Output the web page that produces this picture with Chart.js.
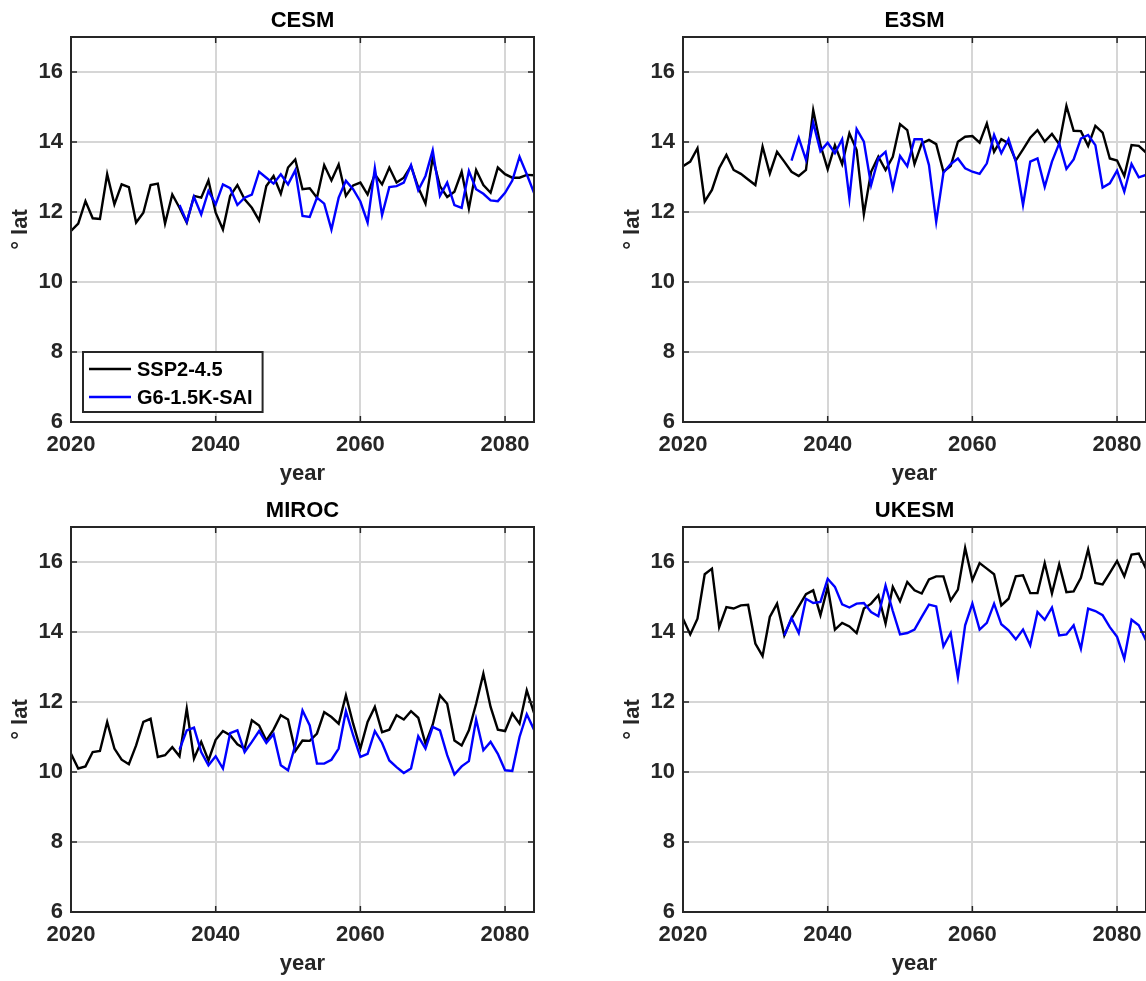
<!DOCTYPE html>
<html>
<head>
<meta charset="utf-8">
<title>Hadley cell edge latitude</title>
<script src="https://cdn.jsdelivr.net/npm/chart.js@4.4.0/dist/chart.umd.min.js"></script>
<style>
html,body{margin:0;padding:0;background:#fff;width:1146px;height:981px;overflow:hidden;}
canvas{position:absolute;}
</style>
</head>
<body>
<canvas id="cesmChart" width="605" height="490" style="left:0;top:0"></canvas>
<canvas id="e3smChart" width="605" height="490" style="left:612px;top:0"></canvas>
<canvas id="mirocChart" width="605" height="490" style="left:0;top:490px"></canvas>
<canvas id="ukesmChart" width="605" height="490" style="left:612px;top:490px"></canvas>
<script>
// Years on the x axis
const years = [
    2020,2021,2022,2023,2024,2025,2026,2027,2028,2029,
    2030,2031,2032,2033,2034,2035,2036,2037,2038,2039,
    2040,2041,2042,2043,2044,2045,2046,2047,2048,2049,
    2050,2051,2052,2053,2054,2055,2056,2057,2058,2059,
    2060,2061,2062,2063,2064,2065,2066,2067,2068,2069,
    2070,2071,2072,2073,2074,2075,2076,2077,2078,2079,
    2080,2081,2082,2083,2084
];
const seriesNames = ["SSP2-4.5", "G6-1.5K-SAI"];
const xTicks = [2020, 2040, 2060, 2080];
const yTicks = [6, 8, 10, 12, 14, 16];

// CESM (SSP2-4.5 from 2020, G6 from 2035)
const cesmSsp = [
    11.46,11.67,12.31,11.82,11.80,13.08,12.22,12.79,12.71,11.70,
    11.98,12.77,12.81,11.67,12.50,12.12,11.70,12.46,12.41,12.90,
    11.98,11.50,12.46,12.77,12.36,12.12,11.76,12.74,13.03,12.52,
    13.27,13.50,12.65,12.68,12.41,13.34,12.90,13.36,12.46,12.76,
    12.84,12.50,13.08,12.79,13.27,12.84,12.98,13.31,12.70,12.24,
    13.55,12.74,12.43,12.58,13.15,12.10,13.20,12.77,12.55,13.27,
    13.08,12.98,12.98,13.06,13.05
];
const cesmG6 = [
    12.20,11.72,12.43,11.93,12.60,12.22,12.79,12.68,12.20,12.41,
    12.50,13.15,12.98,12.81,13.08,12.79,13.19,11.89,11.86,12.41,
    12.24,11.50,12.41,12.89,12.65,12.30,11.70,13.25,11.91,12.71,
    12.74,12.84,13.34,12.62,13.03,13.76,12.46,12.84,12.20,12.12,
    13.17,12.65,12.52,12.33,12.31,12.55,12.90,13.58,13.08,12.55
];

// E3SM
const e3smSsp = [
    13.31,13.44,13.82,12.30,12.63,13.25,13.63,13.20,13.09,12.93,
    12.77,13.87,13.10,13.72,13.44,13.15,13.03,13.20,14.91,13.91,
    13.22,13.91,13.37,14.25,13.77,11.94,13.15,13.58,13.20,13.58,
    14.51,14.34,13.37,13.96,14.06,13.94,13.15,13.31,14.01,14.15,
    14.17,13.98,14.53,13.72,14.08,13.96,13.47,13.79,14.12,14.34,
    14.01,14.23,13.94,15.03,14.32,14.31,13.89,14.46,14.27,13.53,
    13.47,13.03,13.91,13.89,13.70
];
const e3smG6 = [
    13.47,14.12,13.49,14.55,13.74,13.98,13.68,14.08,12.39,14.37,
    14.01,12.77,13.53,13.72,12.68,13.60,13.31,14.08,14.08,13.34,
    11.72,13.12,13.37,13.53,13.25,13.15,13.09,13.39,14.20,13.68,
    14.08,13.44,12.20,13.44,13.53,12.72,13.44,13.96,13.23,13.50,
    14.10,14.20,13.91,12.70,12.82,13.18,12.58,13.37,12.99,13.06
];

// MIROC
const mirocSsp = [
    10.52,10.10,10.16,10.57,10.60,11.43,10.67,10.35,10.22,10.76,
    11.43,11.52,10.43,10.48,10.71,10.45,11.81,10.38,10.86,10.33,
    10.92,11.17,11.05,10.79,10.67,11.48,11.33,10.90,11.21,11.62,
    11.50,10.60,10.90,10.89,11.10,11.71,11.57,11.38,12.19,11.38,
    10.67,11.43,11.86,11.14,11.21,11.62,11.50,11.74,11.55,10.81,
    11.35,12.19,11.95,10.90,10.76,11.19,11.95,12.81,11.86,11.21,
    11.17,11.67,11.38,12.33,11.69
];
const mirocG6 = [
    10.64,11.19,11.27,10.57,10.19,10.45,10.10,11.11,11.19,10.57,
    10.86,11.17,10.83,11.08,10.19,10.05,10.76,11.76,11.33,10.24,
    10.24,10.35,10.67,11.74,11.05,10.43,10.52,11.17,10.83,10.33,
    10.14,9.97,10.10,11.02,10.67,11.29,11.19,10.48,9.93,10.16,
    10.31,11.50,10.62,10.86,10.52,10.05,10.03,11.00,11.65,11.21
];

// UKESM (G6 from 2034)
const ukesmSsp = [
    14.38,13.93,14.38,15.65,15.81,14.14,14.71,14.67,14.76,14.78,
    13.67,13.31,14.43,14.81,13.90,14.38,14.73,15.08,15.19,14.48,
    15.29,14.07,14.26,14.16,13.97,14.67,14.81,15.05,14.24,15.29,
    14.88,15.43,15.19,15.10,15.50,15.59,15.59,14.90,15.21,16.40,
    15.48,15.97,15.81,15.65,14.76,14.95,15.59,15.62,15.11,15.11,
    15.97,15.10,15.93,15.14,15.16,15.55,16.36,15.40,15.36,15.69,
    16.03,15.59,16.21,16.24,15.81
];
const ukesmG6 = [
    13.90,14.40,13.97,14.95,14.83,14.86,15.52,15.29,14.79,14.70,
    14.81,14.83,14.57,14.45,15.33,14.60,13.93,13.97,14.07,14.43,
    14.78,14.73,13.59,13.97,12.71,14.19,14.81,14.07,14.26,14.81,
    14.22,14.05,13.79,14.07,13.62,14.57,14.35,14.70,13.90,13.93,
    14.19,13.52,14.67,14.60,14.48,14.14,13.86,13.24,14.35,14.19,
    13.76
];

const FONT = "'Liberation Sans', Arial, Helvetica, sans-serif";
const INK = "#262626";
const GRID = "#d6d6d6";

// Box around the plot area with inward tick marks on all four sides
const axesBox = {
    id: "axesBox",
    afterDraw(chart){
        let {ctx, chartArea:a, scales:{x, y}} = chart;
        ctx.save();
        ctx.strokeStyle = INK;
        ctx.lineWidth = 1.5;
        ctx.beginPath();
        x.ticks.forEach(t=>{
            let px = x.getPixelForValue(t.value);
            ctx.moveTo(px, a.bottom); ctx.lineTo(px, a.bottom - 6);
            ctx.moveTo(px, a.top); ctx.lineTo(px, a.top + 6);
        });
        y.ticks.forEach(t=>{
            let py = y.getPixelForValue(t.value);
            ctx.moveTo(a.left, py); ctx.lineTo(a.left + 6, py);
            ctx.moveTo(a.right, py); ctx.lineTo(a.right - 6, py);
        });
        ctx.stroke();
        ctx.lineWidth = 2;
        ctx.strokeRect(a.left, a.top, a.right - a.left, a.bottom - a.top);
        ctx.restore();
    }
};

// Boxed legend in the lower-left corner of the plot
const boxLegend = {
    id: "boxLegend",
    afterDraw(chart, args, opts){
        if(!opts.display) return;
        let {ctx, chartArea:a} = chart;
        let sets = chart.data.datasets;
        ctx.save();
        ctx.font = "bold 20px " + FONT;
        let textW = Math.max(...sets.map(d=>ctx.measureText(d.label).width));
        let left = a.left + 12, top = a.bottom - 70;
        let w = 54 + textW + 10, h = 60;
        ctx.fillStyle = "#ffffff";
        ctx.fillRect(left, top, w, h);
        ctx.strokeStyle = INK;
        ctx.lineWidth = 2;
        ctx.strokeRect(left, top, w, h);
        sets.forEach((d, i)=>{
            let rowY = top + 17 + i * 28;
            ctx.strokeStyle = d.borderColor;
            ctx.lineWidth = 2.4;
            ctx.beginPath();
            ctx.moveTo(left + 6, rowY); ctx.lineTo(left + 48, rowY);
            ctx.stroke();
            ctx.fillStyle = "#000000";
            ctx.textBaseline = "middle";
            ctx.textAlign = "left";
            ctx.fillText(d.label, left + 54, rowY + 1);
        });
        ctx.restore();
    }
};

function points(startYear, values){
    let i0 = years.indexOf(startYear);
    return values.map((v, i)=>({x: years[i0 + i], y: v}));
}

function tickFont(){ return {family: FONT, size: 22, weight: "bold"}; }

// One panel per model
function buildPanel(id, title, ssp, g6, g6Start, withLegend){
    return new Chart(document.getElementById(id), {
        type: "line",
        data: {
            datasets: [
                {label: seriesNames[0], data: points(years[0], ssp), borderColor: "#000000", order: 1},
                {label: seriesNames[1], data: points(g6Start, g6), borderColor: "#0000ff", order: 0}
            ]
        },
        options: {
            responsive: false,
            animation: false,
            layout: {padding: 0},
            elements: {line: {borderWidth: 2.4, tension: 0}, point: {radius: 0}},
            plugins: {
                legend: {display: false},
                tooltip: {enabled: false},
                title: {display: true, text: title, color: "#000000",
                        font: {family: FONT, size: 22, weight: "bold"}, padding: {top: 8, bottom: 2.6}},
                boxLegend: {display: withLegend}
            },
            scales: {
                x: {
                    type: "linear", min: xTicks[0], max: 2084,
                    afterBuildTicks: s=>{ s.ticks = xTicks.map(v=>({value: v})); },
                    ticks: {padding: 10, color: INK, font: tickFont(), maxRotation: 0, callback: v=>String(v)},
                    grid: {color: GRID, lineWidth: 2, drawTicks: false},
                    border: {display: false},
                    title: {display: true, text: "year", color: INK, font: tickFont(), padding: {top: 0, bottom: 3}},
                    afterFit: s=>{ s.height = 68; }
                },
                y: {
                    type: "linear", min: 6, max: 17,
                    afterBuildTicks: s=>{ s.ticks = yTicks.map(v=>({value: v})); },
                    ticks: {padding: 8, color: INK, font: tickFont()},
                    grid: {color: GRID, lineWidth: 2, drawTicks: false},
                    border: {display: false},
                    title: {display: true, text: "° lat", color: INK, font: tickFont(), padding: {top: 7.6, bottom: 0}},
                    afterFit: s=>{ s.width = 71; }
                },
                yRight: {
                    axis: "y", position: "right", display: true,
                    ticks: {display: false}, grid: {display: false}, border: {display: false},
                    afterFit: s=>{ s.width = 71; }
                }
            }
        },
        plugins: [axesBox, boxLegend]
    });
}

buildPanel("cesmChart", "CESM", cesmSsp, cesmG6, 2035, true);
buildPanel("e3smChart", "E3SM", e3smSsp, e3smG6, 2035, false);
buildPanel("mirocChart", "MIROC", mirocSsp, mirocG6, 2035, false);
buildPanel("ukesmChart", "UKESM", ukesmSsp, ukesmG6, 2034, false);
</script>
</body>
</html>
